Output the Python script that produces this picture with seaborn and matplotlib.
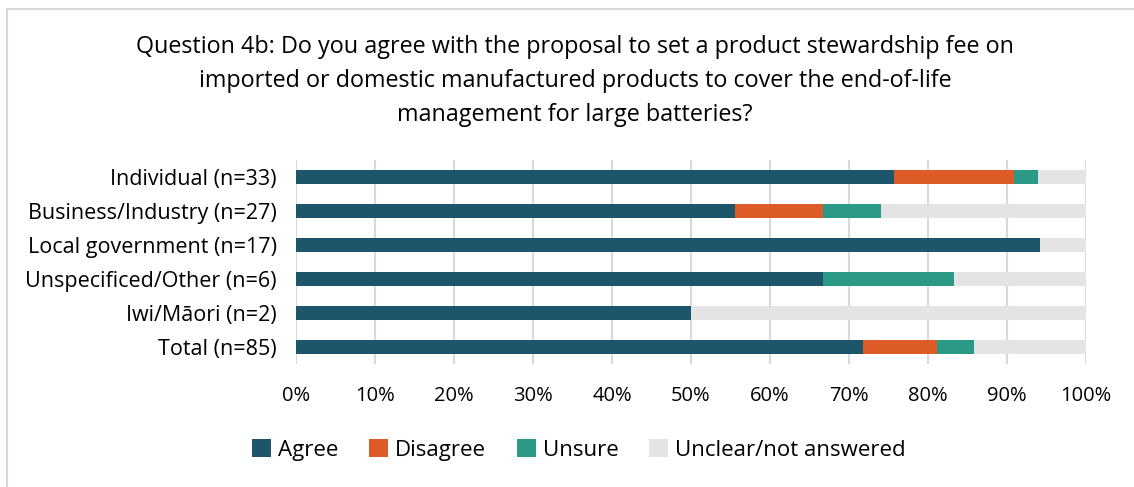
import matplotlib
matplotlib.use("Agg")
import matplotlib.pyplot as plt
from matplotlib.patches import Rectangle
import seaborn as sns
import pandas as pd
import numpy as np

# Response counts per submitter group
groups = ["Individual (n=33)", "Business/Industry (n=27)", "Local government (n=17)",
          "Unspecificed/Other (n=6)", "Iwi/Māori (n=2)", "Total (n=85)"]
group_n = [33, 27, 17, 6, 2, 85]
agree = [25, 15, 16, 4, 1, 61]
disagree = [5, 3, 0, 0, 0, 8]
unsure = [1, 2, 0, 1, 0, 4]
unclear = [2, 7, 1, 1, 1, 12]

responses = ["Agree", "Disagree", "Unsure", "Unclear/not answered"]
colors = ["#1d566b", "#dc5b27", "#2a9a86", "#e4e4e4"]
xticks = [0, 10, 20, 30, 40, 50, 60, 70, 80, 90, 100]

title = ("Question 4b: Do you agree with the proposal to set a product stewardship fee on\n"
         "imported or domestic manufactured products to cover the end-of-life\n"
         "management for large batteries?")

counts = pd.DataFrame({"Agree": agree, "Disagree": disagree, "Unsure": unsure,
                       "Unclear/not answered": unclear}, index=groups)
pct = counts.div(np.array(group_n), axis=0) * 100
cum = pct.cumsum(axis=1)

sns.set_theme(style="white")
plt.rcParams["font.family"] = ["Open Sans", "DejaVu Sans"]
plt.rcParams["text.color"] = "black"
plt.rcParams["xtick.color"] = "black"
plt.rcParams["ytick.color"] = "black"

fig = plt.figure(figsize=(11.34, 4.87), dpi=100)
ax = fig.add_axes([296 / 1134, 1 - 364 / 487, 790 / 1134, 204 / 487])

# Stack segments: draw the cumulative totals from widest to narrowest
for resp, col in reversed(list(zip(responses, colors))):
    df = pd.DataFrame({"group": groups, "value": cum[resp].values})
    sns.barplot(data=df, x="value", y="group", orient="h", color=col,
                width=0.4, ax=ax, label=resp, saturation=1, linewidth=0)

ax.set_xlim(0, 100)
ax.set_xticks(xticks)
ax.set_xticklabels([f"{t}%" for t in xticks], fontsize=14.5)
ax.tick_params(axis="x", pad=16, length=0)
ax.tick_params(axis="y", labelsize=15.5, length=0, pad=14)
ax.set_xlabel("")
ax.set_ylabel("")
ax.grid(axis="x", color="#d9d9d9", linewidth=1.5)
ax.set_axisbelow(True)
for s in ax.spines.values():
    s.set_visible(False)

handles, labels = ax.get_legend_handles_labels()
if ax.get_legend() is not None:
    ax.get_legend().remove()
order = [labels.index(r) for r in responses]
fig.legend([handles[i] for i in order], [labels[i] for i in order],
           loc="center", bbox_to_anchor=(579 / 1134, 1 - 450 / 487), ncol=4,
           frameon=False, fontsize=16, handlelength=0.85, handleheight=0.85,
           handletextpad=0.3, columnspacing=1.4)

fig.text(575 / 1134, 1 - 81 / 487, title, ha="center", va="center",
         fontsize=16.8, linespacing=1.55)

fig.patches.append(Rectangle((7 / 1134, -0.1), 1.2, 1.1 - 9 / 487,
                             transform=fig.transFigure, fill=False,
                             edgecolor="#d9d9d9", linewidth=1.5))

fig.savefig("out.png", dpi=100)
